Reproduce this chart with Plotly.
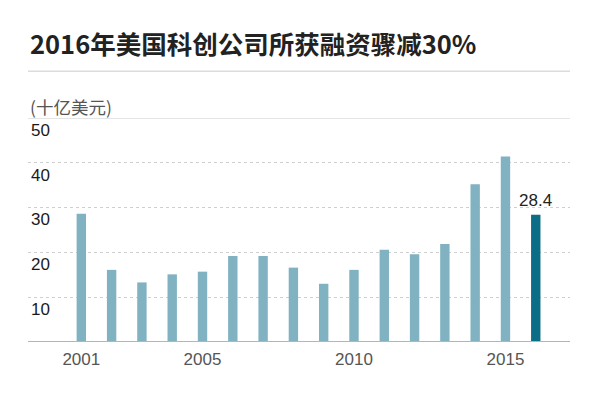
import plotly.graph_objects as go

years = list(range(2001, 2017))
values = [28.6, 16.1, 13.3, 15.1, 15.7, 19.2, 19.2, 16.6, 13.0, 16.1, 20.6, 19.6, 21.9, 35.2, 41.4, 28.4]
x_tick_vals = [2001, 2005, 2010, 2015]
y_tick_vals = [10, 20, 30, 40, 50]
title_text = "2016年美国科创公司所获融资骤减30%"
unit_text = "(十亿美元)"
highlight_label = "28.4"

light = "#80b2c2"
dark = "#0b6e86"
colors = [light] * (len(years) - 1) + [dark]

# page body has an 8px margin, so the figure is laid out 8px up/left
L, T = 20, 109.5
PLOT_W, PLOT_H = 542, 224.5
fig = go.Figure()
fig.add_trace(go.Bar(x=years, y=values, marker=dict(color=colors, line=dict(width=0)),
                     width=0.31, hoverinfo="x+y"))

fig.update_layout(
    width=600, height=396,
    margin=dict(l=L, r=600 - L - PLOT_W, t=T, b=396 - T - PLOT_H, autoexpand=False),
    paper_bgcolor="white", plot_bgcolor="white",
    showlegend=False,
    font=dict(family="Liberation Sans, Arial, sans-serif"),
    xaxis=dict(range=[1999.24, 2017.13], tickvals=x_tick_vals, ticktext=[str(v) for v in x_tick_vals],
               showgrid=False, zeroline=False, showline=False, ticks="", ticklabelstandoff=5,
               tickfont=dict(size=17, color="#555555")),
    yaxis=dict(range=[0, 50], tickvals=y_tick_vals, ticklabelposition="inside bottom",
               showgrid=True, gridcolor="#cfcfcf", griddash="dot", gridwidth=1.2,
               zeroline=False, showline=False, ticks="",
               tickfont=dict(size=17, color="#1a1a1a")),
)

def py(px):
    """paper y for a pixel row measured from figure top"""
    return (T + PLOT_H - px) / PLOT_H

# solid top line at 50, baseline at 0, title rule
fig.add_shape(type="line", xref="paper", yref="y", x0=0, x1=1, y0=50, y1=50,
              line=dict(color="#dcdcdc", width=1.5))
fig.add_shape(type="line", xref="paper", yref="y", x0=0, x1=1, y0=0, y1=0,
              line=dict(color="#b5b5b5", width=1.8))
fig.add_shape(type="line", xref="paper", yref="paper", x0=0, x1=1, y0=py(62.7), y1=py(62.7),
              line=dict(color="#dcdcdc", width=1.5))

fig.add_annotation(text=title_text, xref="paper", yref="paper", x=0, y=py(34),
                   xanchor="left", yanchor="middle", showarrow=False,
                   font=dict(family="Noto Sans CJK SC", size=25.5, color="#222222", weight=600))
fig.add_annotation(text=unit_text, xref="paper", yref="paper", x=0, y=py(98),
                   xanchor="left", yanchor="middle", showarrow=False,
                   font=dict(family="Noto Sans CJK SC", size=17.5, color="#555555"))
fig.add_annotation(text=highlight_label, x=years[-1], y=values[-1], xanchor="center", yanchor="bottom",
                   yshift=3, showarrow=False, font=dict(size=17, color="#222222"))

fig.write_html("out.html")
